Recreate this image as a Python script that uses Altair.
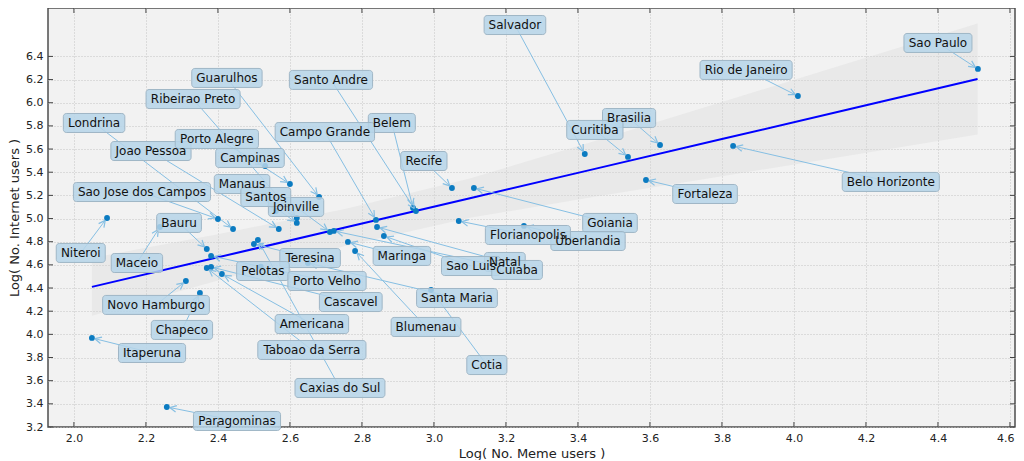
import math
import altair as alt
import pandas as pd

# ---------------- data ----------------
cities = ["Sao Paulo", "Rio de Janeiro", "Belo Horizonte", "Fortaleza", "Brasilia",
          "Curitiba", "Salvador", "Goiania", "Recife", "Uberlandia", "Florianopolis",
          "Belem", "Santo Andre", "Campo Grande", "Natal", "Sao Luis", "Joinville",
          "Cuiaba", "Maringa", "Blumenau", "Santa Maria", "Cotia", "Teresina",
          "Caxias do Sul", "Pelotas", "Bauru", "Porto Velho", "Cascavel", "Americana",
          "Taboao da Serra", "Maceio", "Niteroi", "Novo Hamburgo", "Chapeco",
          "Itaperuna", "Paragominas", "Sao Jose dos Campos", "Londrina", "Joao Pessoa",
          "Guarulhos", "Ribeirao Preto", "Porto Alegre", "Campinas", "Manaus", "Santos"]

meme_users = [4.511, 4.011, 3.831, 3.589, 3.628,
              3.539, 3.419, 3.111, 3.050, 3.250, 3.069,
              2.942, 2.950, 2.839, 2.842, 2.861, 2.711,
              2.722, 2.761, 2.781, 2.650, 2.992, 2.500,
              2.511, 2.519, 2.369, 2.381, 2.381, 2.411,
              2.369, 2.239, 2.092, 2.311, 2.350,
              2.050, 2.258, 2.400, 2.442, 2.569,
              2.681, 2.619, 2.531, 2.600, 2.619, 2.561]

internet_users = [6.292, 6.058, 5.627, 5.333, 5.635,
                  5.532, 5.557, 5.264, 5.264, 4.936, 4.979,
                  5.091, 5.065, 4.988, 4.927, 4.849, 4.884,
                  4.893, 4.798, 4.720, 4.616, 4.383, 4.780,
                  4.815, 4.584, 4.737, 4.677, 4.582, 4.521,
                  4.573, 4.927, 5.005, 4.461, 4.357,
                  3.969, 3.373, 4.996, 4.910, 4.910,
                  5.186, 5.005, 5.454, 5.298, 4.962, 5.065]

# annotation (label box) centres, in data units
label_x = [4.400, 3.867, 4.269, 3.753, 3.542,
           3.447, 3.225, 3.489, 2.972, 3.428, 3.261,
           2.883, 2.714, 2.697, 3.197, 3.103, 2.617,
           3.231, 2.911, 2.978, 3.064, 3.147, 2.656,
           2.739, 2.525, 2.292, 2.703, 2.769, 2.661,
           2.661, 2.175, 2.019, 2.228, 2.300,
           2.217, 2.453, 2.189, 2.056, 2.214,
           2.425, 2.331, 2.397, 2.489, 2.467, 2.533]

label_y = [6.516, 6.283, 5.316, 5.212, 5.868,
           5.765, 6.671, 4.962, 5.497, 4.806, 4.858,
           5.825, 6.197, 5.747, 4.625, 4.590, 5.100,
           4.556, 4.677, 4.064, 4.314, 3.735, 4.659,
           3.537, 4.547, 4.962, 4.461, 4.279, 4.089,
           3.865, 4.616, 4.703, 4.254, 4.038,
           3.839, 3.252, 5.229, 5.825, 5.583,
           6.214, 6.032, 5.687, 5.523, 5.298, 5.186]

# regression line and its confidence band, read at a few x positions
fit_x = [2.05, 2.40, 2.75, 3.10, 3.45, 3.80, 4.15, 4.51]
fit_y = [4.410, 4.665, 4.921, 5.176, 5.431, 5.686, 5.942, 6.205]
band_lo = [4.160, 4.465, 4.761, 5.006, 5.191, 5.366, 5.542, 5.725]
band_hi = [4.660, 4.865, 5.081, 5.346, 5.671, 6.006, 6.342, 6.685]

x_ticks = [2.0, 2.2, 2.4, 2.6, 2.8, 3.0, 3.2, 3.4, 3.6, 3.8, 4.0, 4.2, 4.4, 4.6]
y_ticks = [3.2, 3.4, 3.6, 3.8, 4.0, 4.2, 4.4, 4.6, 4.8, 5.0, 5.2, 5.4, 5.6, 5.8,
           6.0, 6.2, 6.4]

# ---------------- layout / style ----------------
W, H = 967, 419
XDOM = [1.928, 4.614]
YDOM = [3.2, 6.818]
sx = W / (XDOM[1] - XDOM[0])
sy = H / (YDOM[1] - YDOM[0])

FONT = "DejaVu Sans"
ARROW = "#86bfe3"

# DejaVu Sans advance widths (units per em = 2048)
ADV = {" ": 651, "A": 1401, "B": 1405, "C": 1430, "D": 1577, "E": 1294, "F": 1178,
       "G": 1587, "H": 1540, "I": 604, "J": 604, "K": 1343, "L": 1141, "M": 1767,
       "N": 1532, "O": 1612, "P": 1235, "Q": 1612, "R": 1423, "S": 1300, "T": 1251,
       "U": 1499, "V": 1401, "W": 2025, "X": 1403, "Y": 1251, "Z": 1403,
       "a": 1255, "b": 1300, "c": 1126, "d": 1300, "e": 1260, "f": 721, "g": 1300,
       "h": 1298, "i": 569, "j": 569, "k": 1186, "l": 569, "m": 1995, "n": 1298,
       "o": 1253, "p": 1300, "q": 1300, "r": 842, "s": 1067, "t": 803, "u": 1298,
       "v": 1212, "w": 1675, "x": 1212, "y": 1212, "z": 1075}


def text_px(s, size=12):
    return sum(ADV.get(c, 1200) for c in s) * size / 2048.0


rows = []
for c, x, y, lx, ly in zip(cities, meme_users, internet_users, label_x, label_y):
    hw = (text_px(c) / 2 + 4.5) / sx
    hh = 9.5 / sy
    dx = (x - lx) * sx
    dy = -(y - ly) * sy
    ang = math.degrees(math.atan2(dy, dx)) % 360
    rows.append(dict(city=c, x=x, y=y, lx=lx, ly=ly, angle=ang,
                     bx1=lx - hw, bx2=lx + hw, by1=ly - hh, by2=ly + hh))
pts = pd.DataFrame(rows)

band_df = pd.DataFrame(dict(fx=fit_x, fy=fit_y, lo=band_lo, hi=band_hi))

tick_len_y = 5 / sy
tick_len_x = 5 / sx
xt = pd.DataFrame(dict(t=x_ticks))
xt["b0"], xt["b1"] = YDOM[0], YDOM[0] + tick_len_y
xt["t0"], xt["t1"] = YDOM[1] - tick_len_y, YDOM[1]
yt = pd.DataFrame(dict(t=y_ticks))
yt["l0"], yt["l1"] = XDOM[0], XDOM[0] + tick_len_x
yt["r0"], yt["r1"] = XDOM[1] - tick_len_x, XDOM[1]

xs = alt.Scale(domain=XDOM, nice=False, zero=False)
ys = alt.Scale(domain=YDOM, nice=False, zero=False)
xaxis = alt.Axis(values=x_ticks, format=".1f", title="Log( No. Meme users )",
                 grid=True, gridColor="#c4c4c4", gridDash=[1, 2], gridWidth=1,
                 ticks=False, domain=False, labelPadding=5, titlePadding=4,
                 labelFlush=6, labelFlushOffset=4)
yaxis = alt.Axis(values=y_ticks, format=".1f", title="Log( No. Internet users )",
                 grid=True, gridColor="#c4c4c4", gridDash=[1, 2], gridWidth=1,
                 ticks=False, domain=False, labelPadding=5, titlePadding=4,
                 labelFlush=False)


def X(f):
    return alt.X(f"{f}:Q", scale=xs, axis=xaxis)


def Y(f):
    return alt.Y(f"{f}:Q", scale=ys, axis=yaxis)


band = alt.Chart(band_df).mark_area(color="#d4d4d4", opacity=0.3).encode(
    x=X("fx"), y=Y("lo"), y2="hi")
line = alt.Chart(band_df).mark_line(color="#0000ff", strokeWidth=2).encode(
    x=X("fx"), y=Y("fy"))
arrows = alt.Chart(pts).mark_rule(color=ARROW, strokeWidth=1).encode(
    x=X("lx"), y=Y("ly"), x2="x", y2="y")
heads = alt.Chart(pts).mark_point(
    shape="M-0.5,0L-1.6,-0.55M-0.5,0L-1.6,0.55", filled=False, size=144,
    color=ARROW, strokeWidth=1.2, opacity=1).encode(
    x=X("x"), y=Y("y"), angle=alt.Angle("angle:Q", scale=None))
dots = alt.Chart(pts).mark_circle(size=34, color="#0b7bc1", opacity=1).encode(
    x=X("x"), y=Y("y"))
boxes = alt.Chart(pts).mark_rect(fill="#b6d5e9", fillOpacity=0.85, stroke="#9fb6c6",
                                 strokeWidth=1, cornerRadius=3).encode(
    x=X("bx1"), x2="bx2", y=Y("by1"), y2="by2")
texts = alt.Chart(pts).mark_text(font=FONT, fontSize=12, color="#111111").encode(
    x=X("lx"), y=Y("ly"), text="city:N")

tick_style = dict(color="#444444", strokeWidth=1)
tb = alt.Chart(xt).mark_rule(**tick_style).encode(x=X("t"), y=Y("b0"), y2="b1")
tt = alt.Chart(xt).mark_rule(**tick_style).encode(x=X("t"), y=Y("t0"), y2="t1")
tl = alt.Chart(yt).mark_rule(**tick_style).encode(y=Y("t"), x=X("l0"), x2="l1")
tr = alt.Chart(yt).mark_rule(**tick_style).encode(y=Y("t"), x=X("r0"), x2="r1")

chart = alt.layer(band, line, arrows, dots, heads, boxes, texts, tb, tt, tl, tr).properties(
    width=W, height=H,
    padding={"left": 40, "top": 0, "right": 1, "bottom": 33},
    autosize=alt.AutoSizeParams(type="none"),
).configure_view(
    fill="#f2f2f2", stroke="#4d4d4d", strokeWidth=1.5
).configure_axis(
    labelFont=FONT, labelFontSize=11, labelColor="#222222",
    titleFont=FONT, titleFontSize=13, titleFontWeight="normal", titleColor="#222222"
)

chart.save("out.html", embed_options={"renderer": "svg", "actions": False})
